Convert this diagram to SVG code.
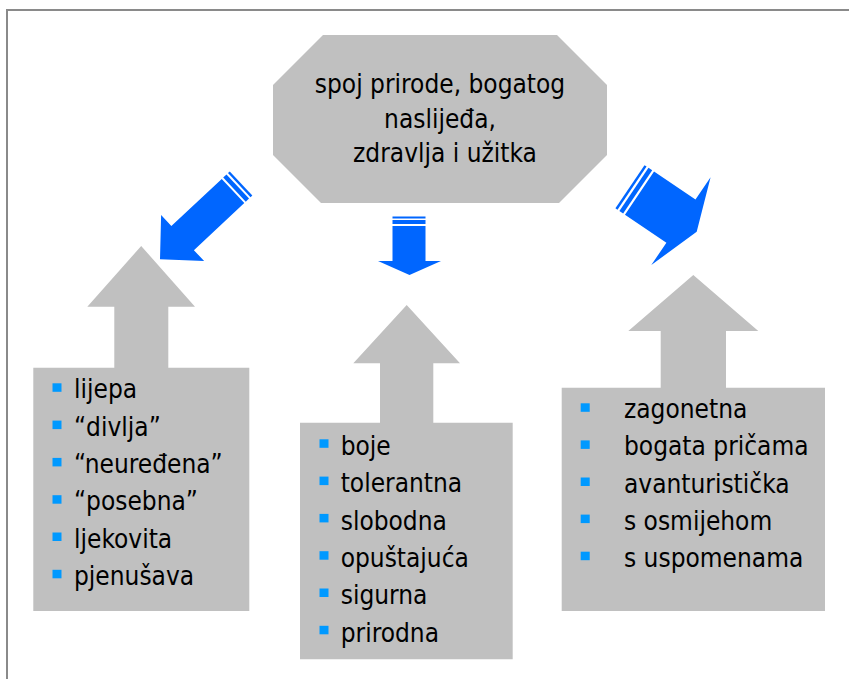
<svg xmlns="http://www.w3.org/2000/svg" width="849" height="679" viewBox="0 0 849 679">
<style>
  .gray { fill: #C0C0C0; }
  .blue { fill: #0066FF; }
  .bul { fill: #0099FF; }
  .t { font-family: "DejaVu Sans Condensed", "DejaVu Sans", sans-serif; font-size: 26px; fill: #000; }
  .c { text-anchor: middle; }
</style>
<rect width="849" height="679" fill="#FFFFFF"/>
<path d="M7,679 V10 H849" fill="none" stroke="#8A8A8A" stroke-width="2"/>

<g id="box-left">
  <path class="gray" d="M33.3,367.7 H114.3 V306.7 H87.3 L141.2,246 L195,306.7 H168.3 V367.7 H249.3 V611 H33.3 Z"/>
  <rect class="bul" x="52.5" y="383.3" width="9" height="8.5"/>
  <rect class="bul" x="52.5" y="420.6" width="9" height="8.5"/>
  <rect class="bul" x="52.5" y="457.9" width="9" height="8.5"/>
  <rect class="bul" x="52.5" y="495.2" width="9" height="8.5"/>
  <rect class="bul" x="52.5" y="532.5" width="9" height="8.5"/>
  <rect class="bul" x="52.5" y="569.8" width="9" height="8.5"/>
  <text class="t" x="74" y="398.3">lijepa</text>
  <text class="t" x="74" y="435.6">“divlja”</text>
  <text class="t" x="74" y="472.9">“neuređena”</text>
  <text class="t" x="74" y="510.2">“posebna”</text>
  <text class="t" x="74" y="547.5">ljekovita</text>
  <text class="t" x="74" y="584.8">pjenušava</text>
</g>

<g id="box-middle">
  <path class="gray" d="M300,422.7 H380 V363.3 H353.3 L406.7,305 L460,363.3 H433.3 V422.7 H512.7 V659.3 H300 Z"/>
  <rect class="bul" x="319.5" y="439.3" width="9" height="8.5"/>
  <rect class="bul" x="319.5" y="476.6" width="9" height="8.5"/>
  <rect class="bul" x="319.5" y="513.9" width="9" height="8.5"/>
  <rect class="bul" x="319.5" y="551.2" width="9" height="8.5"/>
  <rect class="bul" x="319.5" y="588.5" width="9" height="8.5"/>
  <rect class="bul" x="319.5" y="625.8" width="9" height="8.5"/>
  <text class="t" x="340.7" y="455">boje</text>
  <text class="t" x="340.7" y="492.3">tolerantna</text>
  <text class="t" x="340.7" y="529.6">slobodna</text>
  <text class="t" x="340.7" y="566.9">opuštajuća</text>
  <text class="t" x="340.7" y="604.2">sigurna</text>
  <text class="t" x="340.7" y="641.5">prirodna</text>
</g>

<g id="box-right">
  <path class="gray" d="M561.7,387.7 H660.7 V331 H628.3 L693.3,275 L758.3,331 H726 V387.7 H825 V611 H561.7 Z"/>
  <rect class="bul" x="580.7" y="403.3" width="9" height="8.5"/>
  <rect class="bul" x="580.7" y="440.4" width="9" height="8.5"/>
  <rect class="bul" x="580.7" y="477.5" width="9" height="8.5"/>
  <rect class="bul" x="580.7" y="514.6" width="9" height="8.5"/>
  <rect class="bul" x="580.7" y="551.7" width="9" height="8.5"/>
  <text class="t" x="624" y="418.3">zagonetna</text>
  <text class="t" x="624" y="455.4">bogata pričama</text>
  <text class="t" x="624" y="492.5">avanturistička</text>
  <text class="t" x="624" y="529.6">s osmijehom</text>
  <text class="t" x="624" y="566.7">s uspomenama</text>
</g>

<g id="connectors">
  <g id="arrow-left" transform="translate(160,259.3) rotate(136.9)">
    <path class="blue" d="M0,0 L-31,31.5 L-31,16.5 L-100,16.5 L-100,-16.5 L-31,-16.5 L-31,-31.5 Z"/>
    <rect class="blue" x="-106.5" y="-16.5" width="4.5" height="33"/>
    <rect class="blue" x="-111" y="-16.5" width="2.5" height="33"/>
  </g>
  <g id="arrow-middle">
    <path class="blue" d="M392.5,226 H425.5 V261 H441 L409.5,275 L378,261 H392.5 Z"/>
    <rect class="blue" x="392.5" y="220" width="33" height="4"/>
    <rect class="blue" x="392.5" y="216.5" width="33" height="2"/>
  </g>
  <g id="arrow-right" transform="translate(696.7,231.7) rotate(34)">
    <path class="blue" d="M0,0 L-19,53 L-19,26 L-69,26 L-69,-26 L-19,-26 L-19,-53 Z"/>
    <rect class="blue" x="-75.7" y="-26" width="4.5" height="52"/>
    <rect class="blue" x="-80.5" y="-26" width="2.5" height="52"/>
  </g>
</g>

<g id="center">
  <polygon class="gray" points="323,35 557,35 607,85 607,155 559,203 321,203 273,155 273,85"/>
  <text class="t c" x="440" y="93.3">spoj prirode, bogatog</text>
  <text class="t c" x="440" y="127.5">naslijeđa,</text>
  <text class="t c" x="445" y="161.7">zdravlja i užitka</text>
</g>
</svg>
